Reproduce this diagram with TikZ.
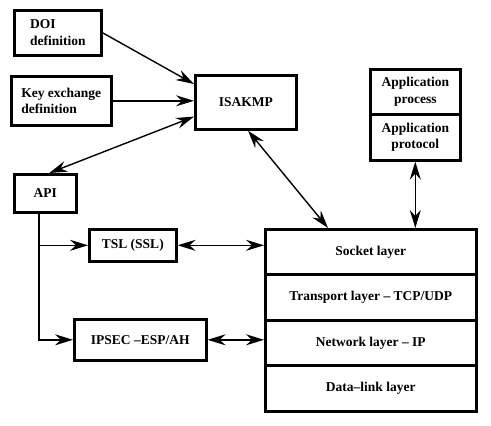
\documentclass[tikz,border=0pt]{standalone}
\usepackage{fontspec}
\setmainfont{Liberation Serif}
\usetikzlibrary{arrows.meta,calc}
\begin{document}
\begin{tikzpicture}[x=1pt,y=-1pt,
  box/.style={draw,line width=2.6pt,anchor=north west,inner sep=0pt,align=center,font=\fontsize{13.5}{16.5}\selectfont\bfseries},
  tip/.tip={Stealth[length=18pt,width=11pt,inset=6pt]},
  conn/.style={line width=1.4pt,-tip},
  dconn/.style={line width=1.4pt,tip-tip}]
\useasboundingbox (0,0) rectangle (491,426);
\node[box,minimum width=87pt,minimum height=45pt,align=left] (doi) at (13,9) {DOI\\definition};
\node[box,minimum width=100pt,minimum height=49pt,align=left] (key) at (10,75) {Key exchange\\definition};
\node[box,minimum width=101pt,minimum height=54pt] (isakmp) at (194,74) {ISAKMP};
\node[box,minimum width=62pt,minimum height=38pt] (api) at (13,173) {API};
\node[box,minimum width=90pt,minimum height=45pt] (appp) at (369,68) {Application\\process};
\node[box,minimum width=90pt,minimum height=46pt] (appr) at (369,113) {Application\\protocol};
\node[box,minimum width=87pt,minimum height=32pt] (tsl) at (88,228) {TSL (SSL)};
\node[box,minimum width=132pt,minimum height=41pt] (ipsec) at (73,318) {IPSEC --ESP/AH};
\node[box,minimum width=211pt,minimum height=45pt] (sock) at (264,228) {Socket layer};
\node[box,minimum width=211pt,minimum height=46pt] (trans) at (264,273) {Transport layer -- TCP/UDP};
\node[box,minimum width=211pt,minimum height=45pt] (net) at (264,319) {Network layer -- IP};
\node[box,minimum width=211pt,minimum height=46pt] (dl) at (264,364) {Data--link layer};
\coordinate (apib) at (39,211);
\coordinate (isaL) at ($(isakmp.north west)+(0,10)$);
\coordinate (isaA) at ($(isakmp.south west)+(0,-14)$);
\coordinate (isaB) at ($(isakmp.south west)+(54,0)$);
\coordinate (sockT) at ($(sock.north west)+(64,0)$);
\coordinate (apiT) at ($(api.north)+(4,0)$);
\draw[conn] (doi.east) -- (isaL);
\draw[conn] (key.east) -- (key.east -| isakmp.west);
\draw[dconn] (isaA) -- (apiT);
\draw[dconn] (isaB) -- (sockT);
\draw[dconn] (appr.south) -- (appr.south |- sock.north);
\draw[conn] (apib) |- (ipsec.west);
\draw[conn] (apib |- tsl.west) -- (tsl.west);
\draw[dconn] (tsl.east) -- (tsl.east -| sock.west);
\draw[dconn] (ipsec.east) -- (ipsec.east -| net.west);
\end{tikzpicture}
\end{document}
